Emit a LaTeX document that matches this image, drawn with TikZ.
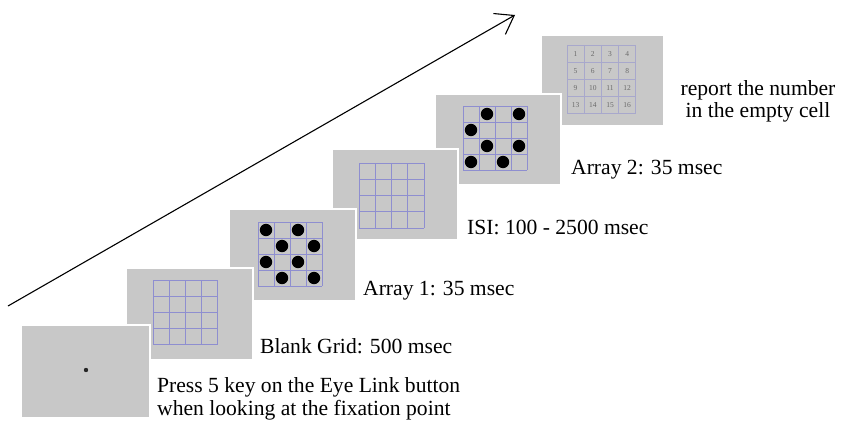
\documentclass[tikz,border=0pt]{standalone}
\usepackage{fontspec}
\setmainfont{Liberation Serif}
\usetikzlibrary{arrows.meta}
\definecolor{screengray}{HTML}{C8C8C8}
\definecolor{gridblue}{HTML}{8E8ED0}
\definecolor{gridpale}{HTML}{A8A8CC}
\definecolor{numgray}{HTML}{6A6A6A}

% 4x4 grid: #1,#2 = top-left corner, #3 = cell size, #4 = colour
\newcommand\cellgrid[4]{%
  \foreach \k in {0,...,4}{%
    \draw[#4, line width=0.9pt] ({#1+\k*#3},#2) -- ({#1+\k*#3},{#2+4*#3});
    \draw[#4, line width=0.9pt] (#1,{#2+\k*#3}) -- ({#1+4*#3},{#2+\k*#3});
  }%
}
% black dots at (row/col) cells of a grid
\newcommand\griddots[4]{%
  \foreach \r/\c in {#4}{%
    \fill[black] ({#1+(\c-0.5)*#3},{#2+(\r-0.5)*#3}) circle[radius=6.2];
  }%
}

\begin{document}
\begin{tikzpicture}[x=1pt,y=-1pt,
  screen/.style={draw=white, line width=2pt, fill=screengray, anchor=north west,
                 inner sep=0pt, minimum width=#1},
  screen/.default=127pt,
  caption/.style={font=\fontsize{21.6}{23}\selectfont, inner sep=0pt, anchor=base west},
  timeline/.style={line width=1.1pt, -{Straight Barb[length=17pt,width=24pt]}},
  cellnum/.style={font=\fontsize{7.5}{7.5}\selectfont, text=numgray, inner sep=0pt}
]
\useasboundingbox (0,0) rectangle (842,420);

% time arrow
\coordinate (tail) at (8,306);
\coordinate (head) at (515,15);
\draw[timeline] (tail) -- (head);

% screen 6: numbered grid
\node[screen=123pt, minimum height=91pt] (s6) at (540,34) {};
\cellgrid{567}{45}{17.2}{gridpale}
\foreach \r in {1,...,4}{
  \foreach \c in {1,...,4}{
    \pgfmathtruncatemacro\num{(\r-1)*4+\c}
    \node[cellnum] (n-\r-\c) at ({567+(\c-0.5)*17.2},{45+(\r-0.5)*17.2}) {\num};
  }
}

% screen 5: second array
\node[screen=126pt, minimum height=91pt] (s5) at (434,93) {};
\cellgrid{463}{106}{16}{gridblue}
\griddots{463}{106}{16}{1/2,1/4,2/1,3/2,3/4,4/1,4/3}

% screen 4: blank grid (ISI)
\node[screen=126pt, minimum height=91pt] (s4) at (331,148) {};
\cellgrid{359}{163}{16.3}{gridblue}

% screen 3: first array
\node[screen=127pt, minimum height=92pt] (s3) at (228,208) {};
\cellgrid{258}{222}{16}{gridblue}
\griddots{258}{222}{16}{1/1,1/3,2/2,2/4,3/1,3/3,4/2,4/4}

% screen 2: blank grid
\node[screen=127pt, minimum height=92pt] (s2) at (125,267) {};
\cellgrid{153}{280}{16.2}{gridblue}

% screen 1: fixation point
\node[screen=129pt, minimum height=93pt] (s1) at (20,324) {};
\fill[black!85] (86,370) circle[radius=2.2];

% captions
\node[caption] (c1a) at (157,392) {Press 5 key on the Eye Link button};
\node[caption] (c1b) at (157,415) {when looking at the fixation point};
\node[caption] (c2) at (260,353) {Blank Grid: 500 msec};
\node[caption] (c3) at (363,295) {Array 1: 35 msec};
\node[caption] (c4) at (467,234) {ISI: 100 - 2500 msec};
\node[caption] (c5) at (571,174) {Array 2: 35 msec};
\node[caption, anchor=base] (c6a) at (758,95) {report the number};
\node[caption, anchor=base] (c6b) at (758,117) {in the empty cell};
\end{tikzpicture}
\end{document}
